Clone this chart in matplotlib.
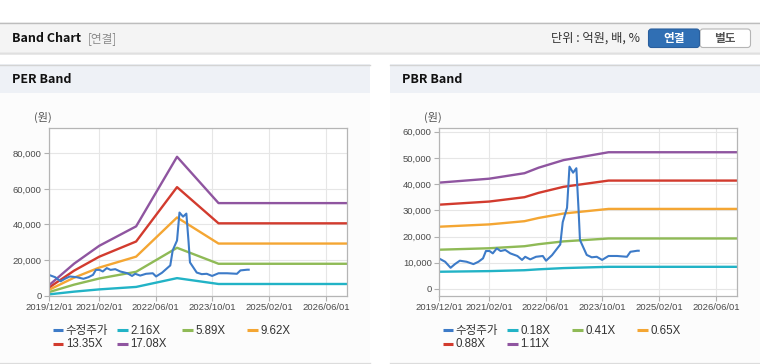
import matplotlib
matplotlib.use('Agg')
import matplotlib.pyplot as plt
import numpy as np
import pandas as pd
from matplotlib.patches import Rectangle, FancyBboxPatch
import matplotlib.dates as mdates
from matplotlib.ticker import FuncFormatter, FixedLocator

plt.rcParams['font.family'] = ['Liberation Sans', 'Noto Sans CJK KR', 'DejaVu Sans']
KR = ['Noto Sans CJK KR', 'DejaVu Sans']

# ---------------- data ----------------
price_dates = ['2019-12-01', '2020-01-20', '2020-03-07', '2020-04-13', '2020-05-25', '2020-07-22',
               '2020-09-19', '2020-11-01', '2020-12-10', '2021-01-04', '2021-02-04', '2021-03-04',
               '2021-04-07', '2021-05-10', '2021-06-19', '2021-08-01', '2021-10-01', '2021-11-10',
               '2021-12-07', '2022-01-19', '2022-03-10', '2022-05-07', '2022-06-04', '2022-07-25',
               '2022-10-04', '2022-10-25', '2022-12-01', '2022-12-22', '2023-01-22', '2023-02-19',
               '2023-03-10', '2023-03-22', '2023-05-19', '2023-07-01', '2023-08-13', '2023-09-28',
               '2023-11-22', '2024-02-04', '2024-04-28', '2024-05-28', '2024-07-25', '2024-08-07']
price = [11600, 10400, 8100, 9500, 10800, 10400,
         9500, 10400, 11700, 14500, 14500, 13600,
         15500, 14500, 14900, 13600, 12600, 11100,
         12300, 11300, 12300, 12600, 10800, 12900,
         17000, 25500, 31000, 46700, 44400, 46100,
         30200, 18700, 13000, 12100, 12300, 11100,
         12600, 12600, 12300, 14200, 14600, 14600]

eps_dates = ['2019-12-01', '2020-07-01', '2021-02-01', '2021-12-15', '2022-12-01', '2023-11-22', '2026-12-01']
eps = [351, 1054, 1639, 2280, 4567, 3044, 3044]
per_multiples = [2.16, 5.89, 9.62, 13.35, 17.08]
per_labels = ['2.16X', '5.89X', '9.62X', '13.35X', '17.08X']

bps_dates = ['2019-12-01', '2021-02-01', '2021-12-01', '2022-04-01', '2022-11-01', '2023-11-22', '2026-12-01']
bps = [36577, 37928, 39820, 41712, 44324, 47027, 47027]
pbr_multiples = [0.18, 0.41, 0.65, 0.88, 1.11]
pbr_labels = ['0.18X', '0.41X', '0.65X', '0.88X', '1.11X']

price_label = '수정주가'
x_tick_labels = ['2019/12/01', '2021/02/01', '2022/06/01', '2023/10/01', '2025/02/01', '2026/06/01']
x_range = ['2019-12-01', '2026-12-01']
per_yticks = [0, 20000, 40000, 60000, 80000]
pbr_yticks = [0, 10000, 20000, 30000, 40000, 50000, 60000]

price_color = '#3d7bc8'
band_colors = ['#22b3c6', '#8fba56', '#f4a633', '#d23b2e', '#8f55a0']

# ---------------- figure ----------------
W, H = 760, 364
fig = plt.figure(figsize=(W / 100, H / 100), dpi=100)
fig.patch.set_facecolor('white')
bg = fig.add_axes([0, 0, 1, 1])
bg.set_xlim(0, W)
bg.set_ylim(H, 0)
bg.axis('off')
bg.set_zorder(-1)

# header bar
bg.add_patch(Rectangle((0, 22), W, 31, facecolor='#f4f4f4', edgecolor='none'))
bg.plot([0, W], [22.5, 22.5], color='#bdbdbd', lw=1)
bg.plot([0, W], [52.5, 52.5], color='#c4c4c4', lw=1)
bg.plot([0, W], [54, 54], color='#e6e6e6', lw=1.2)
bg.text(11.5, 38.5, 'Band Chart', fontsize=9.0, fontweight='bold', family=KR, color='#111', va='center')
bg.text(88, 38.5, '[연결]', fontsize=8.4, family=KR, color='#8a8a8a', va='center')
bg.text(551, 38.5, '단위 : 억원, 배, %', fontsize=8.8, family=KR, color='#333', va='center')
bg.add_patch(FancyBboxPatch((700, 29), 50.5, 18.5, boxstyle='round,pad=0,rounding_size=3',
                            facecolor='white', edgecolor='#b5b5b5', lw=0.8))
bg.add_patch(FancyBboxPatch((648.5, 29), 51, 18.5, boxstyle='round,pad=0,rounding_size=3',
                            facecolor='#306fb4', edgecolor='#2a5f9e', lw=0.8))
bg.text(674, 38.5, '연결', fontsize=8.4, family=KR, fontweight='bold', color='white', ha='center', va='center')
bg.text(725, 38.5, '별도', fontsize=8.4, family=KR, fontweight='bold', color='#555', ha='center', va='center')

# panels
for x0, x1, title in [(0, 370, 'PER Band'), (390, 760, 'PBR Band')]:
    bg.add_patch(Rectangle((x0, 64), x1 - x0, 29, facecolor='#eef1f6', edgecolor='none'))
    bg.add_patch(Rectangle((x0, 93), x1 - x0, 269, facecolor='#fcfcfc', edgecolor='none'))
    bg.plot([x0, x1], [64.5, 64.5], color='#d4d4d4', lw=1)
    bg.plot([x0, x1], [362.5, 362.5], color='#dcdcdc', lw=1)
    bg.text(x0 + 11.5, 79.5, title, fontsize=9.0, fontweight='bold', family=KR, color='#111', va='center')

dates_p = pd.to_datetime(price_dates)
x_ticks = pd.to_datetime([s.replace('/', '-') for s in x_tick_labels])
xr = pd.to_datetime(x_range)


def setup_axes(left_px, yticks, ylim):
    ax = fig.add_axes([left_px / W, 1 - 295.7 / H, 298 / W, 167.4 / H])
    ax.set_facecolor('white')
    ax.set_xlim(xr[0], xr[1])
    ax.set_ylim(*ylim)
    ax.xaxis.set_major_locator(FixedLocator(mdates.date2num(x_ticks)))
    ax.set_xticklabels(x_tick_labels)
    ax.set_yticks(yticks)
    ax.yaxis.set_major_formatter(FuncFormatter(lambda v, p: f'{int(v):,}'))
    ax.grid(True, color='#e6e6e6', lw=0.8)
    ax.set_axisbelow(True)
    for s in ax.spines.values():
        s.set_color('#b5b5b5')
        s.set_linewidth(0.9)
    ax.tick_params(direction='out', length=3.5, width=0.8, color='#b0b0b0',
                   labelsize=6.8, labelcolor='#4a4a4a', pad=2)
    ax.text(-6.3 / 298, 1 + 10.5 / 167.4, '(원)', transform=ax.transAxes, family=KR, fontsize=8.0,
            color='#555', ha='center', va='center')
    return ax


ax1 = setup_axes(49.3, per_yticks, (0, 94000))
d_eps = pd.to_datetime(eps_dates)
for m, c in zip(per_multiples, band_colors):
    ax1.plot(d_eps, np.array(eps) * m, color=c, lw=1.7, solid_joinstyle='round')
ax1.plot(dates_p, price, color=price_color, lw=1.5)

ax2 = setup_axes(439.3, pbr_yticks, (-2560, 61340))
d_bps = pd.to_datetime(bps_dates)
for m, c in zip(pbr_multiples, band_colors):
    ax2.plot(d_bps, np.array(bps) * m, color=c, lw=1.7, solid_joinstyle='round')
ax2.plot(dates_p, price, color=price_color, lw=1.5)


def legend(xs, labels):
    cols = [price_color] + band_colors
    names = [price_label] + labels
    for i, (c, n) in enumerate(zip(cols, names)):
        row, col = divmod(i, 4)
        x = xs[col]
        y = 330 + row * 13.5
        bg.plot([x, x + 10.5], [y, y], color=c, lw=2.2, solid_capstyle='butt')
        fam = KR if n == price_label else ['Liberation Sans']
        bg.text(x + 13, y + 0.5, n, fontsize=8.3, family=fam, color='#333', va='center')


legend([52.7, 117.3, 182.3, 247.3], per_labels)
legend([442.7, 507.3, 572.3, 637.3], pbr_labels)

fig.savefig('out.png', dpi=100, facecolor='white')
